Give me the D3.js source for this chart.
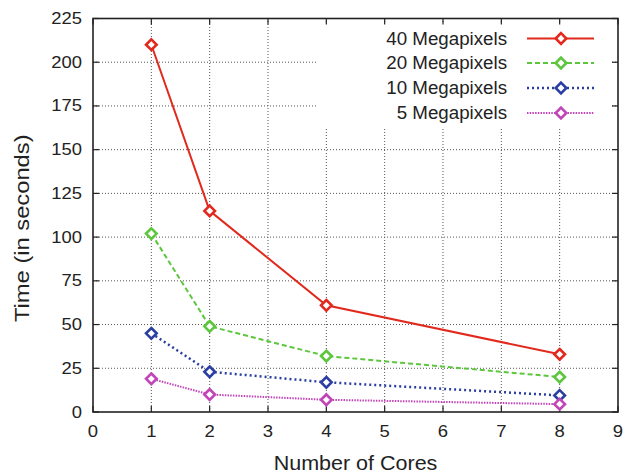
<!DOCTYPE html>
<html>
<head>
<meta charset="utf-8">
<script src="https://cdn.jsdelivr.net/npm/d3@7"></script>
<style>
  body { margin: 0; background: #fff; }
  text { font-family: "Liberation Sans", Arial, sans-serif; fill: #222; }
</style>
</head>
<body>
<svg id="chart" width="629" height="476"></svg>
<script>
// data
const cores = [1, 2, 4, 8];
const mp40 = [210, 115, 61, 33];
const mp20 = [102, 49, 32, 20];
const mp10 = [45, 23, 17, 9.5];
const mp5 = [19, 10, 7, 4.5];
const seriesNames = ["40 Megapixels", "20 Megapixels", "10 Megapixels", "5 Megapixels"];
const xTicks = [0, 1, 2, 3, 4, 5, 6, 7, 8, 9];
const yTicks = [0, 25, 50, 75, 100, 125, 150, 175, 200, 225];

const series = [
  { name: seriesNames[0], values: mp40, color: "#e2291d", dash: null, width: 2 },
  { name: seriesNames[1], values: mp20, color: "#5cc63c", dash: "5,3", width: 2 },
  { name: seriesNames[2], values: mp10, color: "#2b3fa3", dash: "2,3", width: 2.5 },
  { name: seriesNames[3], values: mp5, color: "#c244b9", dash: "1.5,1.2", width: 2 }
];

const margin = { left: 93, right: 11, top: 18.5, bottom: 64 };
const W = 629, H = 476;
const svg = d3.select("#chart");

const x = d3.scaleLinear().domain([0, 9]).range([margin.left, W - margin.right]);
const y = d3.scaleLinear().domain([0, 225]).range([H - margin.bottom, margin.top]);

// text with a slight horizontal stretch (the original font runs wider)
function label(parent, tx, ty, str, size, anchor, sx, rot) {
  const r = rot ? ` rotate(${rot})` : "";
  return parent.append("text")
    .attr("transform", `translate(${tx},${ty})${r} scale(${sx},1)`)
    .attr("text-anchor", anchor).attr("font-size", size).text(str);
}

// legend box area (white, hides the grid behind it)
const legBox = { x0: 317, x1: 612, y0: 22, y1: 128 };

// grid
const grid = svg.append("g").attr("stroke", "#555").attr("stroke-width", 1)
  .attr("stroke-dasharray", "1,2");
yTicks.slice(1, -1).forEach(t => {
  grid.append("line").attr("x1", x(0)).attr("x2", x(9)).attr("y1", y(t)).attr("y2", y(t));
});
xTicks.slice(1, -1).forEach(t => {
  grid.append("line").attr("x1", x(t)).attr("x2", x(t)).attr("y1", y(0)).attr("y2", y(225));
});

svg.append("rect")
  .attr("x", legBox.x0).attr("y", legBox.y0)
  .attr("width", legBox.x1 - legBox.x0).attr("height", legBox.y1 - legBox.y0)
  .attr("fill", "#fff");

// inward ticks on all four sides
const tickLen = 6;
const ticks = svg.append("g").attr("stroke", "#222").attr("stroke-width", 1.2);
yTicks.forEach(t => {
  ticks.append("line").attr("x1", x(0)).attr("x2", x(0) + tickLen).attr("y1", y(t)).attr("y2", y(t));
  ticks.append("line").attr("x1", x(9)).attr("x2", x(9) - tickLen).attr("y1", y(t)).attr("y2", y(t));
});
xTicks.forEach(t => {
  ticks.append("line").attr("x1", x(t)).attr("x2", x(t)).attr("y1", y(0)).attr("y2", y(0) - tickLen);
  ticks.append("line").attr("x1", x(t)).attr("x2", x(t)).attr("y1", y(225)).attr("y2", y(225) + tickLen);
});

// frame
svg.append("rect")
  .attr("x", x(0)).attr("y", y(225))
  .attr("width", x(9) - x(0)).attr("height", y(0) - y(225))
  .attr("fill", "none").attr("stroke", "#222").attr("stroke-width", 1.6);

// tick labels
const yl = svg.append("g");
yTicks.forEach(t => label(yl, 82, y(t) + 5.5, t, 16, "end", 1.15));
const xl = svg.append("g");
xTicks.forEach(t => label(xl, x(t), 437, t, 16.5, "middle", 1.12));

// axis titles
label(svg, (x(0) + x(9)) / 2, 470, "Number of Cores", 20.5, "middle", 1.05);
label(svg, 29, (y(0) + y(225)) / 2 + 13, "Time (in seconds)", 21, "middle", 1.13, -90);

// diamond marker
function diamond(g, cx, cy, color) {
  const r = 5.3;
  g.append("path")
    .attr("d", `M${cx},${cy - r}L${cx + r},${cy}L${cx},${cy + r}L${cx - r},${cy}Z`)
    .attr("fill", "#fff").attr("stroke", color).attr("stroke-width", 2.6);
}

const line = d3.line().x(d => x(d[0])).y(d => y(d[1]));

series.forEach(s => {
  const pts = cores.map((c, i) => [c, s.values[i]]);
  const g = svg.append("g");
  g.append("path").datum(pts).attr("d", line)
    .attr("fill", "none").attr("stroke", s.color).attr("stroke-width", s.width)
    .attr("stroke-dasharray", s.dash);
  pts.forEach(p => diamond(g, x(p[0]), y(p[1]), s.color));
});

// legend
const legRowY = [38.5, 63, 88, 113];
series.forEach((s, i) => {
  const ly = legRowY[i];
  label(svg, 507, ly + 6.3, s.name, 17.5, "end", 1.07);
  svg.append("line").attr("x1", 527).attr("x2", 594).attr("y1", ly).attr("y2", ly)
    .attr("stroke", s.color).attr("stroke-width", s.width).attr("stroke-dasharray", s.dash);
  diamond(svg, 561, ly, s.color);
});
</script>
</body>
</html>
